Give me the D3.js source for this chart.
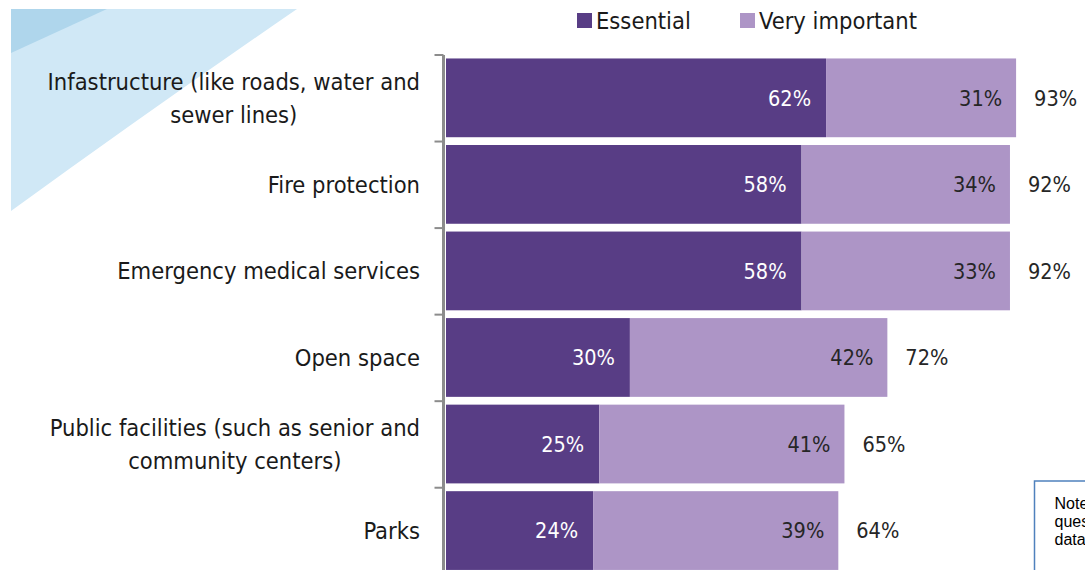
<!DOCTYPE html>
<html>
<head>
<meta charset="utf-8">
<script src="https://cdn.jsdelivr.net/npm/d3@7"></script>
<style>
  body { margin: 0; background: #fff; overflow: hidden; }
  svg { display: block; }
</style>
</head>
<body>
<svg id="chart" width="1085" height="570"></svg>
<script>
// categories, one line per row of the label
var categories = [
  ["Infastructure (like roads, water and", "sewer lines)"],
  ["Fire protection"],
  ["Emergency medical services"],
  ["Open space"],
  ["Public facilities (such as senior and", "community centers)"],
  ["Parks"]
];
var essential = [62, 58, 58, 30, 25, 24];
var veryImportant = [31, 34, 33, 42, 41, 39];
var totals = [93, 92, 92, 72, 65, 64];
var seriesNames = ["Essential", "Very important"];
var colors = ["#583d85", "#ad95c6"];

var svg = d3.select("#chart"),
    width = +svg.attr("width"),
    height = +svg.attr("height");

var font = "'DejaVu Sans Condensed', 'DejaVu Sans', sans-serif";

// background decoration in the top left corner
svg.append("path")
    .attr("d", "M11,9 L297,9 Q150,110 11,211 Z")
    .attr("fill", "#d0e8f6");
svg.append("path")
    .attr("d", "M11,9 L107,9 L11,53 Z")
    .attr("fill", "#afd6ec");

var x = d3.scaleLinear().domain([0, 100]).range([446, 1059]);
var y = d3.scaleBand()
    .domain(d3.range(categories.length))
    .range([55, 55 + 86.4 * categories.length])
    .paddingInner(0.09)
    .paddingOuter(0.04);

var rows = categories.map(function(c, i) {
  return { i: i, label: c, ess: essential[i], very: veryImportant[i], total: totals[i] };
});

var bars = svg.append("g").selectAll("g")
    .data(rows)
    .enter().append("g");

bars.append("rect")
    .attr("x", x(0))
    .attr("y", function(d) { return y(d.i); })
    .attr("width", function(d) { return x(d.ess) - x(0); })
    .attr("height", y.bandwidth())
    .attr("fill", colors[0]);

bars.append("rect")
    .attr("x", function(d) { return x(d.ess); })
    .attr("y", function(d) { return y(d.i); })
    .attr("width", function(d) { return x(d.total) - x(d.ess); })
    .attr("height", y.bandwidth())
    .attr("fill", colors[1]);

bars.append("text")
    .attr("x", function(d) { return x(d.ess) - 15; })
    .attr("y", function(d) { return y(d.i) + y.bandwidth() / 2; })
    .attr("dy", "0.36em")
    .attr("text-anchor", "end")
    .attr("fill", "#fff")
    .style("font", "21.5px " + font)
    .text(function(d) { return d.ess + "%"; });

bars.append("text")
    .attr("x", function(d) { return x(d.total) - 14; })
    .attr("y", function(d) { return y(d.i) + y.bandwidth() / 2; })
    .attr("dy", "0.36em")
    .attr("text-anchor", "end")
    .attr("fill", "#262626")
    .style("font", "21.5px " + font)
    .text(function(d) { return d.very + "%"; });

bars.append("text")
    .attr("x", function(d) { return x(d.total) + 18; })
    .attr("y", function(d) { return y(d.i) + y.bandwidth() / 2; })
    .attr("dy", "0.36em")
    .attr("fill", "#262626")
    .style("font", "21.5px " + font)
    .text(function(d) { return d.total + "%"; });

// axis on the left, labels drawn separately below
var axis = svg.append("g")
    .attr("transform", "translate(443.5,0)")
    .call(d3.axisLeft(y).tickValues([]).tickSizeOuter(0));
axis.select(".domain")
    .attr("stroke", "#8c8c8c")
    .attr("stroke-width", 3)
    .attr("d", "M0," + y.range()[0] + "V" + height);
axis.selectAll(".sep")
    .data(d3.range(categories.length))
    .enter().append("line")
    .attr("class", "sep")
    .attr("x1", -9).attr("x2", 0)
    .attr("y1", function(i) { return y.range()[0] + y.step() * i; })
    .attr("y2", function(i) { return y.range()[0] + y.step() * i; })
    .attr("stroke", "#8c8c8c")
    .attr("stroke-width", 2);

var labels = svg.append("g").selectAll("text")
    .data(rows)
    .enter().append("text")
    .style("font", "23.5px " + font)
    .attr("fill", "#1a1a1a");

labels.each(function(d) {
  var t = d3.select(this);
  var cy = y(d.i) + y.bandwidth() / 2;
  if (d.label.length == 1) {
    t.attr("x", 420).attr("y", cy).attr("dy", "0.36em").attr("text-anchor", "end").text(d.label[0]);
  } else {
    t.attr("text-anchor", "middle");
    d.label.forEach(function(line, k) {
      t.append("tspan").attr("x", 0).attr("y", cy + (k - 0.5) * 33).attr("dy", "0.36em").text(line);
    });
    // right align the centred block at x = 420
    var w = this.getBBox().width;
    t.selectAll("tspan").attr("x", 420 - w / 2);
  }
});

// legend
var legend = svg.append("g").selectAll("g")
    .data(seriesNames)
    .enter().append("g")
    .attr("transform", function(d, i) { return "translate(" + [577, 740][i] + ",0)"; });
legend.append("rect")
    .attr("x", 0).attr("y", 13)
    .attr("width", 15).attr("height", 15)
    .attr("fill", function(d, i) { return colors[i]; });
legend.append("text")
    .attr("x", 19).attr("y", 21)
    .attr("dy", "0.36em")
    .style("font", "23.5px " + font)
    .attr("fill", "#1a1a1a")
    .text(function(d) { return d; });

// note box, cut off by the right edge as in the source
var note = svg.append("g").attr("transform", "translate(1034.5,481)");
note.append("rect")
    .attr("width", 200).attr("height", 120)
    .attr("fill", "#fff")
    .attr("stroke", "#4f81bd")
    .attr("stroke-width", 1.5);
note.append("text")
    .style("font", "16px 'Liberation Sans', Arial, sans-serif")
    .attr("fill", "#000")
    .selectAll("tspan")
    .data(["Note:", "question", "data"])
    .enter().append("tspan")
    .attr("x", 20)
    .attr("y", function(d, i) { return 28 + i * 18; })
    .text(function(d) { return d; });
</script>
</body>
</html>
